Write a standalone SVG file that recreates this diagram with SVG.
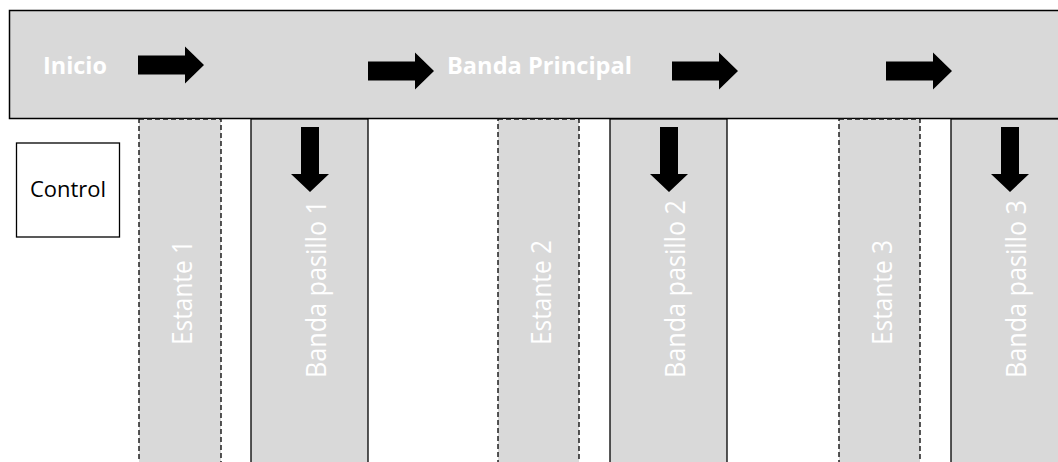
<svg xmlns="http://www.w3.org/2000/svg" xmlns:xlink="http://www.w3.org/1999/xlink" width="1058" height="462" viewBox="0 0 1058 462">
<style>
.band{fill:#d9d9d9;stroke:#000;stroke-width:1.5}
.shelf{fill:#d9d9d9;stroke:#111;stroke-width:1.4;stroke-dasharray:5 3}
.lane{fill:#d9d9d9;stroke:#000;stroke-width:1.3}
.lbl{font-family:"Open Sans","Noto Sans",sans-serif;fill:#fff}
.bold{font-weight:bold;font-size:24px}
.vt{font-size:28px}
.ctl{fill:#fff;stroke:#000;stroke-width:1.3}
.ctxt{font-family:"Open Sans","Noto Sans",sans-serif;font-size:22px;fill:#000}
.arr{fill:#000}
</style>
<defs>
<path id="ra" d="M0,-9.5 H47 V-18.5 L66,0 L47,18.5 V9.5 H0 Z"/>
<path id="da" d="M-9,0 H9 V47 H19 L0,65 L-19,47 H-9 Z"/>
</defs>
<g id="main-band">
<rect class="band" x="9.5" y="10.5" width="1060" height="108"/>
<text class="lbl bold" x="43" y="74" textLength="64" lengthAdjust="spacingAndGlyphs">Inicio</text>
<text class="lbl bold" x="447" y="74" textLength="185" lengthAdjust="spacingAndGlyphs">Banda Principal</text>
</g>
<g id="estante-1">
<rect class="shelf" x="139" y="119" width="82" height="360"/>
<text class="lbl vt" transform="translate(192,345) rotate(-90)" textLength="105" lengthAdjust="spacingAndGlyphs">Estante 1</text>
</g>
<g id="banda-pasillo-1">
<rect class="lane" x="251" y="119" width="117" height="360"/>
<text class="lbl vt" transform="translate(326,378) rotate(-90)" textLength="178" lengthAdjust="spacingAndGlyphs">Banda pasillo 1</text>
</g>
<g id="estante-2">
<rect class="shelf" x="498" y="119" width="81" height="360"/>
<text class="lbl vt" transform="translate(551,345) rotate(-90)" textLength="105" lengthAdjust="spacingAndGlyphs">Estante 2</text>
</g>
<g id="banda-pasillo-2">
<rect class="lane" x="610" y="119" width="117" height="360"/>
<text class="lbl vt" transform="translate(685,378) rotate(-90)" textLength="178" lengthAdjust="spacingAndGlyphs">Banda pasillo 2</text>
</g>
<g id="estante-3">
<rect class="shelf" x="839" y="119" width="81" height="360"/>
<text class="lbl vt" transform="translate(892,345) rotate(-90)" textLength="105" lengthAdjust="spacingAndGlyphs">Estante 3</text>
</g>
<g id="banda-pasillo-3">
<rect class="lane" x="951" y="119" width="130" height="360"/>
<text class="lbl vt" transform="translate(1026,378) rotate(-90)" textLength="178" lengthAdjust="spacingAndGlyphs">Banda pasillo 3</text>
</g>
<g id="control">
<rect class="ctl" x="16.5" y="143" width="103" height="94"/>
<text class="ctxt" x="68" y="197" text-anchor="middle" textLength="76" lengthAdjust="spacingAndGlyphs">Control</text>
</g>
<g id="connectors">
<use class="arr" xlink:href="#ra" href="#ra" x="138" y="65"/>
<use class="arr" xlink:href="#ra" href="#ra" x="368" y="71"/>
<use class="arr" xlink:href="#ra" href="#ra" x="672" y="71"/>
<use class="arr" xlink:href="#ra" href="#ra" x="886" y="71"/>
<use class="arr" xlink:href="#da" href="#da" x="310" y="127"/>
<use class="arr" xlink:href="#da" href="#da" x="669" y="127"/>
<use class="arr" xlink:href="#da" href="#da" x="1010" y="127"/>
</g>
</svg>
